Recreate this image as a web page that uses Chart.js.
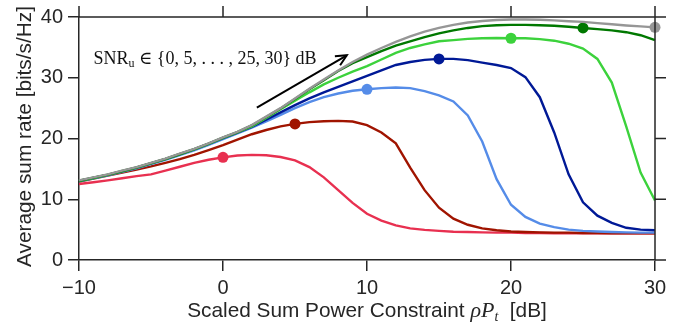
<!DOCTYPE html>
<html><head><meta charset="utf-8">
<script src="https://cdn.jsdelivr.net/npm/chart.js@4.4.0/dist/chart.umd.min.js"></script>
<style>html,body{margin:0;padding:0;background:#fff;}#wrap{width:694px;height:330px;}</style>
</head><body><div id="wrap"><canvas id="c" width="694" height="330"></canvas></div>
<script>
// x values: scaled sum power constraint rho*P_t [dB]
const powerDb = [-10,-9,-8,-7,-6,-5,-4,-3,-2,-1,0,1,2,3,4,5,6,7,8,9,10,11,12,13,14,15,16,17,18,19,20,21,22,23,24,25,26,27,28,29,30];
const snrLevels = [0,5,10,15,20,25,30];
const rateSnr0  = [12.5,12.8,13.1,13.45,13.8,14.1,14.7,15.35,16.0,16.5,16.9,17.2,17.3,17.25,16.95,16.4,15.3,13.6,11.5,9.4,7.6,6.5,5.7,5.2,4.95,4.8,4.65,4.6,4.55,4.5,4.5,4.45,4.45,4.4,4.4,4.4,4.4,4.4,4.4,4.4,4.4];
const rateSnr5  = [12.9,13.4,13.9,14.4,14.9,15.4,16.0,16.6,17.3,18.1,18.9,19.8,20.7,21.4,22.0,22.4,22.7,22.85,22.9,22.8,22.2,21.0,19.2,15.2,11.5,8.6,6.8,5.8,5.2,4.9,4.7,4.6,4.55,4.5,4.5,4.45,4.45,4.4,4.4,4.4,4.4];
const rateSnr10 = [12.95,13.45,13.95,14.5,15.1,15.8,16.5,17.25,18.05,18.95,19.9,20.85,21.8,22.8,23.9,25.0,26.0,26.8,27.4,27.85,28.1,28.3,28.4,28.3,27.8,27.1,26.1,23.8,19.5,13.3,9.1,7.1,6.0,5.4,5.0,4.8,4.7,4.6,4.55,4.5,4.5];
const rateSnr15 = [13.0,13.5,14.0,14.6,15.2,15.9,16.6,17.4,18.2,19.1,20.05,20.95,21.9,23.1,24.3,25.5,26.6,27.6,28.5,29.4,30.3,31.2,32.1,32.6,32.95,33.1,33.1,32.9,32.5,32.1,31.6,30.1,26.8,21.0,14.1,9.5,7.3,6.1,5.3,5.0,4.9];
const rateSnr20 = [13.0,13.5,14.0,14.6,15.2,15.9,16.6,17.4,18.2,19.1,20.1,21.0,22.0,23.4,24.8,26.2,27.6,28.9,30.0,31.0,31.9,33.0,34.1,34.9,35.5,36.0,36.2,36.4,36.5,36.55,36.5,36.5,36.35,36.1,35.6,34.8,33.1,29.2,22.0,14.4,9.8];
const rateSnr25 = [13.05,13.55,14.05,14.65,15.25,15.95,16.65,17.45,18.25,19.15,20.15,21.05,22.15,23.55,24.95,26.5,28.1,29.6,31.1,32.4,33.4,34.4,35.3,36.0,36.7,37.3,37.8,38.2,38.5,38.65,38.7,38.7,38.65,38.55,38.4,38.2,38.0,37.8,37.5,37.0,36.2];
const rateSnr30 = [13.1,13.6,14.1,14.7,15.3,16.0,16.7,17.5,18.3,19.2,20.2,21.1,22.2,23.6,25.0,26.6,28.2,29.7,31.2,32.6,33.8,34.9,35.9,36.8,37.6,38.2,38.7,39.1,39.35,39.5,39.6,39.6,39.55,39.45,39.3,39.2,39.0,38.8,38.6,38.45,38.3];
const xTicks = [-10,0,10,20,30];
const yTicks = [0,10,20,30,40];

const allRates = [rateSnr0,rateSnr5,rateSnr10,rateSnr15,rateSnr20,rateSnr25,rateSnr30];
const colors = ['rgb(232,48,80)','rgb(160,20,0)','rgb(85,140,232)','rgb(0,25,150)','rgb(60,210,60)','rgb(0,120,0)','rgb(150,150,150)'];
const axisColor = '#262626';
const sansFont = '"Liberation Sans", Arial, sans-serif';
const serifFont = '"Liberation Serif", "DejaVu Serif", serif';

const datasets = allRates.map((r, i) => ({
  label: 'SNR ' + snrLevels[i] + ' dB',
  data: powerDb.map((x, k) => ({x: x, y: r[k]})),
  borderColor: colors[i],
  backgroundColor: colors[i],
  borderWidth: 2.4,
  tension: 0,
  pointRadius: powerDb.map(x => x === snrLevels[i] ? 5.5 : 0),
  pointHoverRadius: 0,
  pointBorderWidth: 0,
  pointBackgroundColor: colors[i],
  clip: 10,
  order: 6 - i
}));

const decorPlugin = {
  id: 'decor',
  afterDraw(chart) {
    const {ctx, chartArea: a, scales: {x, y}} = chart;
    ctx.save();
    // frame top/right with outward ticks
    ctx.strokeStyle = axisColor; ctx.lineWidth = 1.5;
    ctx.beginPath();
    ctx.moveTo(a.left, a.top); ctx.lineTo(a.right, a.top); ctx.lineTo(a.right, a.bottom);
    xTicks.forEach(v => { const p = x.getPixelForValue(v); ctx.moveTo(p, a.top); ctx.lineTo(p, a.top - 11); });
    yTicks.forEach(v => { const p = y.getPixelForValue(v); ctx.moveTo(a.right, p); ctx.lineTo(a.right + 11, p); });
    ctx.stroke();

    // annotation text
    ctx.fillStyle = '#111';
    ctx.textBaseline = 'alphabetic';
    ctx.textAlign = 'left';
    let tx = x.getPixelForValue(-9.0), ty = y.getPixelForValue(32.2);
    ctx.font = '18px ' + serifFont;
    ctx.fillText('SNR', tx, ty); tx += ctx.measureText('SNR').width;
    ctx.font = '12px ' + serifFont;
    ctx.fillText('u', tx, ty + 3); tx += ctx.measureText('u').width;
    ctx.font = '18px ' + serifFont;
    ctx.fillText(' \u2208 {0, 5, . . . , 25, 30} dB', tx, ty);

    // arrow
    const x1 = x.getPixelForValue(2.35), y1 = y.getPixelForValue(25.1);
    const x2 = x.getPixelForValue(8.6), y2 = y.getPixelForValue(33.7);
    ctx.strokeStyle = '#000'; ctx.lineWidth = 2;
    ctx.beginPath(); ctx.moveTo(x1, y1); ctx.lineTo(x2, y2); ctx.stroke();
    const ang = Math.atan2(y2 - y1, x2 - x1), L = 12, sp = 0.45;
    ctx.beginPath();
    ctx.moveTo(x2 - L * Math.cos(ang - sp), y2 - L * Math.sin(ang - sp));
    ctx.lineTo(x2, y2);
    ctx.lineTo(x2 - L * Math.cos(ang + sp), y2 - L * Math.sin(ang + sp));
    ctx.stroke();

    // y axis title
    ctx.fillStyle = axisColor;
    ctx.save();
    ctx.translate(25, (a.top + a.bottom) / 2 - 2);
    ctx.rotate(-Math.PI / 2);
    ctx.font = '20.8px ' + sansFont;
    ctx.textAlign = 'center'; ctx.textBaseline = 'middle';
    ctx.fillText('Average sum rate [bits/s/Hz]', 0, 0);
    ctx.restore();

    // x axis title with math part
    const segs = [
      {t: 'Scaled Sum Power Constraint ', f: '20.8px ' + sansFont, dy: 0},
      {t: '\u03C1', f: 'italic 22px ' + serifFont, dy: 0},
      {t: 'P', f: 'italic 22px ' + serifFont, dy: 0},
      {t: 't', f: 'italic 14px ' + serifFont, dy: 4},
      {t: '  [dB]', f: '20.8px ' + sansFont, dy: 0}
    ];
    let total = 0;
    segs.forEach(s => { ctx.font = s.f; s.w = ctx.measureText(s.t).width; total += s.w; });
    let sx = (a.left + a.right) / 2 - total / 2;
    const by = 317;
    ctx.textAlign = 'left'; ctx.textBaseline = 'alphabetic';
    segs.forEach(s => { ctx.font = s.f; ctx.fillText(s.t, sx, by + s.dy); sx += s.w; });
    ctx.restore();
  }
};

new Chart(document.getElementById('c'), {
  type: 'line',
  data: {datasets},
  options: {
    responsive: false,
    animation: false,
    devicePixelRatio: 1,
    layout: {padding: {top: 15, right: 39, left: 0, bottom: 0}},
    plugins: {legend: {display: false}, tooltip: {enabled: false}},
    scales: {
      x: {
        type: 'linear', min: -10, max: 30,
        afterFit: s => { s.height = 70; },
        ticks: {stepSize: 10, color: axisColor, font: {family: sansFont, size: 20}, padding: 5,
          callback: v => v < 0 ? '\u2212' + Math.abs(v) : String(v)},
        grid: {drawOnChartArea: false, drawTicks: true, tickLength: 11, color: axisColor, lineWidth: 1.5},
        border: {display: true, color: axisColor, width: 1.5}
      },
      y: {
        type: 'linear', min: 0, max: 40,
        afterFit: s => { s.width = 79; },
        ticks: {stepSize: 10, color: axisColor, font: {family: sansFont, size: 20}, padding: 5},
        grid: {drawOnChartArea: false, drawTicks: true, tickLength: 11, color: axisColor, lineWidth: 1.5},
        border: {display: true, color: axisColor, width: 1.5}
      }
    }
  },
  plugins: [decorPlugin]
});
</script>
</body></html>
